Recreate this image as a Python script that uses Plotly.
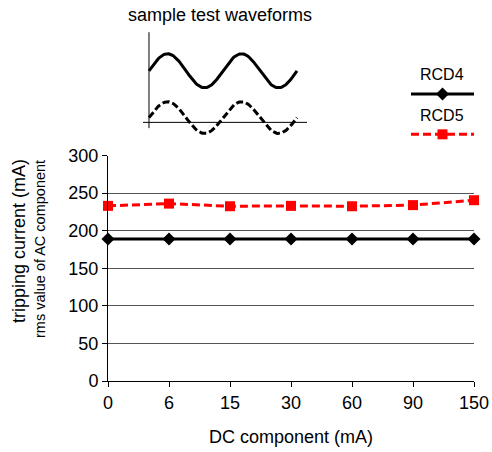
import numpy as np
import plotly.graph_objects as go

W, H = 492, 452

# ---- data ----
dc_component = ['0', '6', '15', '30', '60', '90', '150']
rcd4 = [189, 189, 189, 189, 189, 189, 189]
rcd5 = [233, 236, 232.5, 233, 232.5, 234, 240.5]
series_names = ['RCD4', 'RCD5']
y_ticks = [0, 50, 100, 150, 200, 250, 300]

# sample waveform illustration (two periods of a sine, in periods / amplitude units)
wave_t = np.linspace(0, 2, 161)
wave_solid_offset = 3.03
wave_dashed_offset = 0.28

FONT = 'Liberation Sans, Arial, sans-serif'


def px(x):
    return x / W


def py(y):
    return 1 - y / H


fig = go.Figure()

# main traces
fig.add_trace(go.Scatter(
    x=dc_component, y=rcd4, mode='lines+markers', name=series_names[0],
    line=dict(color='black', width=3),
    marker=dict(symbol='diamond', size=10, color='black'),
    cliponaxis=False, showlegend=False))
fig.add_trace(go.Scatter(
    x=dc_component, y=rcd5, mode='lines+markers', name=series_names[1],
    line=dict(color='#FF0000', width=3, dash='8px,4px'),
    marker=dict(symbol='square', size=10, color='#FF0000'),
    cliponaxis=False, showlegend=False))

# inset waveforms
fig.add_trace(go.Scatter(
    x=wave_t, y=wave_solid_offset + np.sin(2 * np.pi * wave_t), mode='lines',
    line=dict(color='black', width=3), xaxis='x2', yaxis='y2',
    showlegend=False, hoverinfo='skip'))
fig.add_trace(go.Scatter(
    x=wave_t, y=wave_dashed_offset + 0.93 * np.sin(2 * np.pi * wave_t), mode='lines',
    line=dict(color='black', width=3, dash='7px,3px'), xaxis='x2', yaxis='y2',
    showlegend=False, hoverinfo='skip'))

# custom legend keys (line sample + marker sample)
legend_key_y = {'RCD4': 0.85, 'RCD5': 0.178}
fig.add_trace(go.Scatter(
    x=[0, 1], y=[legend_key_y['RCD4']] * 2, mode='lines',
    line=dict(color='black', width=3),
    xaxis='x3', yaxis='y3', showlegend=False, hoverinfo='skip', cliponaxis=False))
fig.add_trace(go.Scatter(
    x=[0.5], y=[legend_key_y['RCD4']], mode='markers',
    marker=dict(symbol='diamond', size=10, color='black'),
    xaxis='x3', yaxis='y3', showlegend=False, hoverinfo='skip', cliponaxis=False))
fig.add_trace(go.Scatter(
    x=[0, 1], y=[legend_key_y['RCD5']] * 2, mode='lines',
    line=dict(color='#FF0000', width=3, dash='8px,4px'),
    xaxis='x3', yaxis='y3', showlegend=False, hoverinfo='skip', cliponaxis=False))
fig.add_trace(go.Scatter(
    x=[0.5], y=[legend_key_y['RCD5']], mode='markers',
    marker=dict(symbol='square', size=10, color='#FF0000'),
    xaxis='x3', yaxis='y3', showlegend=False, hoverinfo='skip', cliponaxis=False))

shapes = [
    # inset axes lines
    dict(type='line', xref='x2', yref='y2', x0=0, x1=0, y0=-0.34, y1=5.3,
         line=dict(color='black', width=1)),
    dict(type='line', xref='x2', yref='y2', x0=-0.081, x1=2.135, y0=0, y1=0,
         line=dict(color='black', width=1)),
]


def label(text, x, y, size, angle=0):
    return dict(text=text, x=px(x), y=py(y), xref='paper', yref='paper',
                xanchor='center', yanchor='middle', textangle=angle,
                showarrow=False, font=dict(size=size, color='black', family=FONT))


annotations = [
    label('sample test waveforms', 220, 15, 18),
    label('RCD4', 442, 75, 16),
    label('RCD5', 442, 115, 16),
    label('tripping current (mA)', 19, 241, 18, -90),
    label('rms value of AC component', 40, 249, 14.5, -90),
    label('DC component (mA)', 291, 437, 18),
]

fig.update_layout(
    width=W, height=H,
    margin=dict(l=0, r=0, t=0, b=0, pad=0, autoexpand=False),
    paper_bgcolor='white', plot_bgcolor='white',
    font=dict(family=FONT, size=18, color='black'),
    showlegend=False,
    xaxis=dict(
        domain=[px(108), px(474)], type='category', range=[0, 6],
        categoryorder='array', categoryarray=dc_component,
        showline=True, linecolor='black', linewidth=1,
        ticks='outside', ticklen=5, tickcolor='black', tickwidth=1,
        showgrid=False, zeroline=False, fixedrange=True, automargin=False,
        tickfont=dict(size=18), anchor='y'),
    yaxis=dict(
        domain=[py(381), py(155.5)], range=[0, 300], tickvals=y_ticks,
        showline=True, linecolor='black', linewidth=1,
        ticks='outside', ticklen=5, tickcolor='black', tickwidth=1,
        showgrid=True, gridcolor='#555555', gridwidth=1, automargin=False,
        zeroline=False, tickfont=dict(size=18), anchor='x'),
    xaxis2=dict(domain=[px(143), px(307)], range=[-0.081, 2.135], visible=False,
                anchor='y2', fixedrange=True),
    yaxis2=dict(domain=[py(137), py(31)], range=[-0.86, 5.37], visible=False,
                anchor='x2', fixedrange=True),
    xaxis3=dict(domain=[px(411), px(474)], range=[0, 1], visible=False,
                anchor='y3', fixedrange=True),
    yaxis3=dict(domain=[py(145), py(85)], range=[0, 1], visible=False,
                anchor='x3', fixedrange=True),
    shapes=shapes,
    annotations=annotations,
)

fig.write_html(
    'out.html',
    config={'displayModeBar': False},
    post_script="document.body.style.margin='0';document.body.style.overflow='hidden';",
)
